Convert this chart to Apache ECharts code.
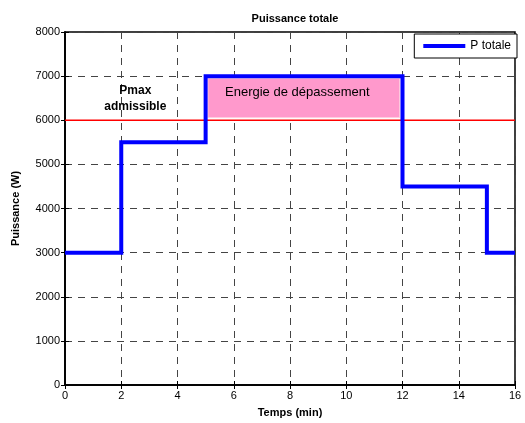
<!DOCTYPE html>
<html>
<head>
<meta charset="utf-8">
<script src="https://cdn.jsdelivr.net/npm/echarts@6/dist/echarts.min.js"></script>
<style>html,body{margin:0;padding:0;background:#fff;}#c{width:525px;height:423px;}</style>
</head>
<body>
<div id="c"></div>
<script>
// Data
const timeSteps = [0, 2, 2, 5, 5, 12, 12, 15, 15, 16];
const powerValues = [3000, 3000, 5500, 5500, 7000, 7000, 4500, 4500, 3000, 3000];
const pmaxTimes = [0, 16];
const pmaxValues = [6000, 6000];
const energyArea = [[5.08, 6060], [11.9, 6950]];
const energyLabelPos = [5.69, 6620];
const pmaxLabelPos = [2.5, 6500];
const xTicks = { min: 0, max: 16, interval: 2 };
const yTicks = { min: 0, max: 8000, interval: 1000 };

const chart = echarts.init(document.getElementById('c'), null, { renderer: 'canvas' });
const font = 'Arial, "Liberation Sans", Helvetica, sans-serif';
const gridLine = { show: true, lineStyle: { color: '#444', type: [7, 6], width: 1 } };

const option = {
  animation: false,
  backgroundColor: '#fff',
  textStyle: { fontFamily: font },
  title: {
    text: 'Puissance totale',
    left: 290, top: 8, textAlign: 'center',
    textStyle: { fontSize: 11, fontWeight: 'bold', color: '#000', fontFamily: font }
  },
  grid: { left: 65, right: 10, top: 32, bottom: 35, show: true, borderColor: '#000', borderWidth: 1.5, backgroundColor: '#fff' },
  legend: {
    data: [{ name: 'P totale', icon: 'rect' }],
    right: 8, top: 34,
    orient: 'vertical',
    itemWidth: 42, itemHeight: 4,
    backgroundColor: '#fff',
    borderColor: '#000', borderWidth: 1, borderRadius: 0,
    padding: [6, 6, 6, 9],
    itemGap: 4,
    textStyle: { fontSize: 12, color: '#000', fontFamily: font }
  },
  xAxis: [{
    type: 'value', min: xTicks.min, max: xTicks.max, interval: xTicks.interval,
    name: 'Temps (min)', nameLocation: 'middle', nameGap: 22,
    nameTextStyle: { fontSize: 11, fontWeight: 'bold', color: '#000', fontFamily: font },
    axisLine: { show: true, lineStyle: { color: '#000', width: 1.5 } },
    axisTick: { show: true, inside: true, length: 4, lineStyle: { color: '#000' } },
    axisLabel: { fontSize: 11, color: '#000', margin: 5, fontFamily: font, showMaxLabel: true },
    splitLine: gridLine
  }, {
    type: 'value', position: 'top', min: xTicks.min, max: xTicks.max, interval: xTicks.interval,
    axisLine: { show: true, lineStyle: { color: '#000', width: 1.5 } },
    axisTick: { show: true, inside: true, length: 4, lineStyle: { color: '#000' } },
    axisLabel: { show: false }, splitLine: { show: false }
  }],
  yAxis: [{
    type: 'value', min: yTicks.min, max: yTicks.max, interval: yTicks.interval,
    name: 'Puissance (W)', nameLocation: 'middle', nameGap: 44,
    nameTextStyle: { fontSize: 11, fontWeight: 'bold', color: '#000', fontFamily: font },
    axisLine: { show: true, lineStyle: { color: '#000', width: 1.5 } },
    axisTick: { show: true, inside: true, length: 4, lineStyle: { color: '#000' } },
    axisLabel: { fontSize: 11, color: '#000', margin: 5, fontFamily: font, formatter: v => String(v) },
    splitLine: gridLine
  }, {
    type: 'value', position: 'right', min: yTicks.min, max: yTicks.max, interval: yTicks.interval,
    axisLine: { show: true, lineStyle: { color: '#000', width: 1.5 } },
    axisTick: { show: true, inside: true, length: 4, lineStyle: { color: '#000' } },
    axisLabel: { show: false }, splitLine: { show: false }
  }],
  series: [
    {
      name: 'Pmax', type: 'line', symbol: 'none', silent: true,
      data: pmaxTimes.map((t, i) => [t, pmaxValues[i]]),
      lineStyle: { color: '#ff0000', width: 1.5 },
      z: 3,
      markArea: {
        silent: true,
        itemStyle: { color: '#ff99cc', borderColor: '#ffccdd', borderWidth: 1 },
        label: { show: false },
        data: [[{ coord: energyArea[0] }, { coord: energyArea[1] }]]
      },
      markPoint: {
        symbol: 'circle', symbolSize: 0, silent: true,
        data: [
          {
            coord: pmaxLabelPos,
            label: {
              show: true, position: 'inside', formatter: 'Pmax\nadmissible',
              fontSize: 12, fontWeight: 'bold', color: '#000', lineHeight: 16, fontFamily: font
            }
          },
          {
            coord: energyLabelPos,
            label: {
              show: true, position: 'right', distance: 0, formatter: 'Energie de dépassement',
              fontSize: 13, color: '#000', fontFamily: font
            }
          }
        ]
      }
    },
    {
      name: 'P totale', type: 'line', symbol: 'none',
      data: timeSteps.map((t, i) => [t, powerValues[i]]),
      lineStyle: { color: '#0000ff', width: 4, join: 'miter' },
      itemStyle: { color: '#0000ff' },
      z: 4
    }
  ]
};
chart.setOption(option);
</script>
</body>
</html>
